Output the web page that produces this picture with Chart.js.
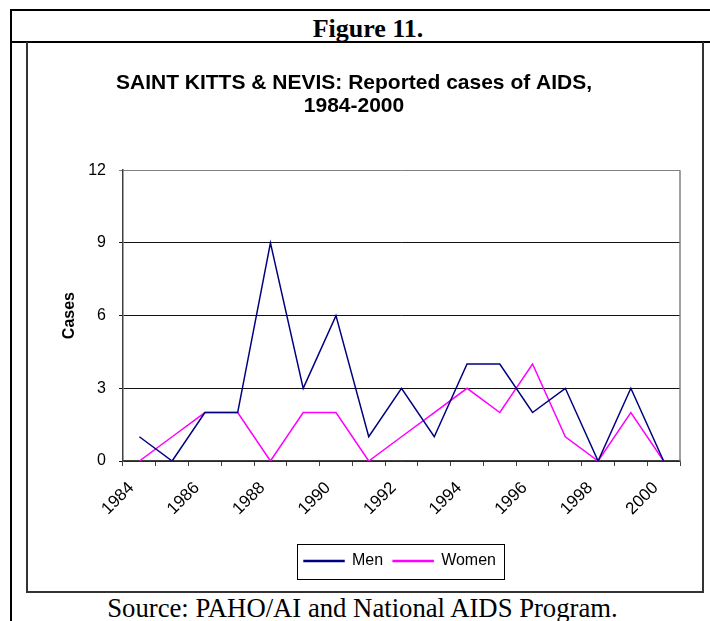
<!DOCTYPE html>
<html>
<head>
<meta charset="utf-8">
<script src="https://cdn.jsdelivr.net/npm/chart.js@4.4.0/dist/chart.umd.min.js"></script>
<style>
  body { margin: 0; background: #fff; }
  #page { position: relative; width: 710px; height: 621px; overflow: hidden; }
  .line { position: absolute; background: #000; }
  .gray { background: #333; }
  .txt { position: absolute; font-family: "Liberation Serif", "Times New Roman", serif; color: #000; white-space: nowrap; line-height: 26px; font-size: 26px; }
  #chartWrap { position: absolute; left: 28px; top: 44px; }
</style>
</head>
<body>
<div id="page">
  <div class="line" style="left:10px; top:9px; width:700px; height:2px;"></div>
  <div class="line" style="left:10px; top:9px; width:2px; height:612px;"></div>
  <div class="line" style="left:10px; top:41px; width:700px; height:2px;"></div>
  <div class="line gray" style="left:26px; top:42px; width:2px; height:551px;"></div>
  <div class="line gray" style="left:702px; top:42px; width:2px; height:551px;"></div>
  <div class="line gray" style="left:26px; top:591px; width:678px; height:2px;"></div>
  <div class="txt" style="left:0; width:736px; top:16px; text-align:center; font-weight:bold;">Figure 11.</div>
  <div class="txt" style="left:0; width:725px; top:595px; text-align:center; font-size:26.7px;">Source: PAHO/AI and National AIDS Program.</div>
  <div id="chartWrap"><canvas id="line-chart-aids" width="674" height="547"></canvas></div>
</div>
<script>
// Reported AIDS cases by year
var years = ['1984','1985','1986','1987','1988','1989','1990','1991','1992','1993','1994','1995','1996','1997','1998','1999','2000'];
var men   = [1, 0, 2, 2, 9, 3, 6, 1, 3, 1, 4, 4, 2, 3, 0, 3, 0];
var women = [0, 1, 2, 2, 0, 2, 2, 0, 1, 2, 3, 2, 4, 1, 0, 2, 0];
var yTicks = [0, 3, 6, 9, 12];

var LEGEND_SHIFT = 46; // legend sits centred under the plot area, not the canvas

var frames = {
    id: 'frames',
    afterUpdate: function (chart) {
        var lg = chart.legend;
        if (!lg) return;
        lg.left += LEGEND_SHIFT;
        lg.right += LEGEND_SHIFT;
        (lg.legendHitBoxes || []).forEach(function (b) { b.left += LEGEND_SHIFT; });
    },
    afterDraw: function (chart) {
        var ctx = chart.ctx;
        var a = chart.chartArea;
        ctx.save();
        // grey right edge of the plot area
        ctx.strokeStyle = '#808080';
        ctx.lineWidth = 1.5;
        ctx.beginPath();
        ctx.moveTo(a.right, a.top);
        ctx.lineTo(a.right, a.bottom);
        ctx.stroke();

        // box round the legend
        var boxes = chart.legend.legendHitBoxes;
        if (boxes && boxes.length) {
            var l = Math.min.apply(null, boxes.map(function (b) { return b.left; })) - 7;
            var r = Math.max.apply(null, boxes.map(function (b) { return b.left + b.width; })) + 8;
            var t = boxes[0].top - 9;
            var btm = boxes[0].top + boxes[0].height + 10;
            ctx.strokeStyle = '#000';
            ctx.lineWidth = 1;
            ctx.strokeRect(Math.round(l) + 0.5, Math.round(t) + 0.5, Math.round(r - l), Math.round(btm - t));
        }
        ctx.restore();
    }
};

new Chart(document.getElementById('line-chart-aids'), {
    type: 'line',
    data: {
        labels: years,
        datasets: [{
            label: 'Men',
            data: men,
            borderColor: '#000080',
            backgroundColor: '#000080',
            borderWidth: 1.5,
            pointRadius: 0,
            tension: 0,
            fill: false
        }, {
            label: 'Women',
            data: women,
            borderColor: '#ff00ff',
            backgroundColor: '#ff00ff',
            borderWidth: 1.5,
            pointRadius: 0,
            tension: 0,
            fill: false
        }]
    },
    options: {
        responsive: false,
        animation: false,
        layout: { padding: { left: 0, right: 22, top: 0, bottom: 12 } },
        plugins: {
            title: {
                display: true,
                text: ['SAINT KITTS & NEVIS: Reported cases of AIDS,', '1984-2000'],
                color: '#000',
                font: { family: 'Liberation Sans', size: 21, weight: 'bold', lineHeight: 1.1 },
                padding: { top: 28, bottom: 52 }
            },
            legend: {
                position: 'bottom',
                labels: {
                    color: '#000',
                    font: { family: 'Liberation Sans', size: 16 },
                    boxWidth: 40,
                    boxHeight: 1,
                    padding: 10
                }
            },
            tooltip: { enabled: false }
        },
        scales: {
            x: {
                offset: true,
                afterFit: function (scale) { scale.height = 82; },
                grid: {
                    offset: true,
                    drawOnChartArea: false,
                    drawTicks: true,
                    tickLength: 5,
                    color: '#404040'
                },
                border: { color: '#404040', width: 1.5 },
                ticks: {
                    autoSkip: false,
                    maxRotation: 45,
                    minRotation: 45,
                    padding: 12,
                    labelOffset: -8,
                    color: '#000',
                    font: { family: 'Liberation Sans', size: 17 },
                    callback: function (value, index) {
                        return index % 2 === 0 ? this.getLabelForValue(value) : '';
                    }
                }
            },
            y: {
                min: 0,
                max: 12,
                afterFit: function (scale) { scale.width = 95; },
                afterBuildTicks: function (scale) {
                    scale.ticks = yTicks.map(function (v) { return { value: v }; });
                },
                grid: {
                    drawTicks: true,
                    tickLength: 4,
                    color: function (c) { return c.tick && c.tick.value === 12 ? '#808080' : '#111'; }
                },
                border: { color: '#404040', width: 1.5 },
                ticks: {
                    padding: 13,
                    color: '#000',
                    font: { family: 'Liberation Sans', size: 16 }
                },
                title: {
                    display: true,
                    text: 'Cases',
                    color: '#000',
                    font: { family: 'Liberation Sans', size: 16, weight: 'bold' },
                    padding: { top: 32, bottom: 0 }
                }
            }
        }
    },
    plugins: [frames]
});
</script>
</body>
</html>
